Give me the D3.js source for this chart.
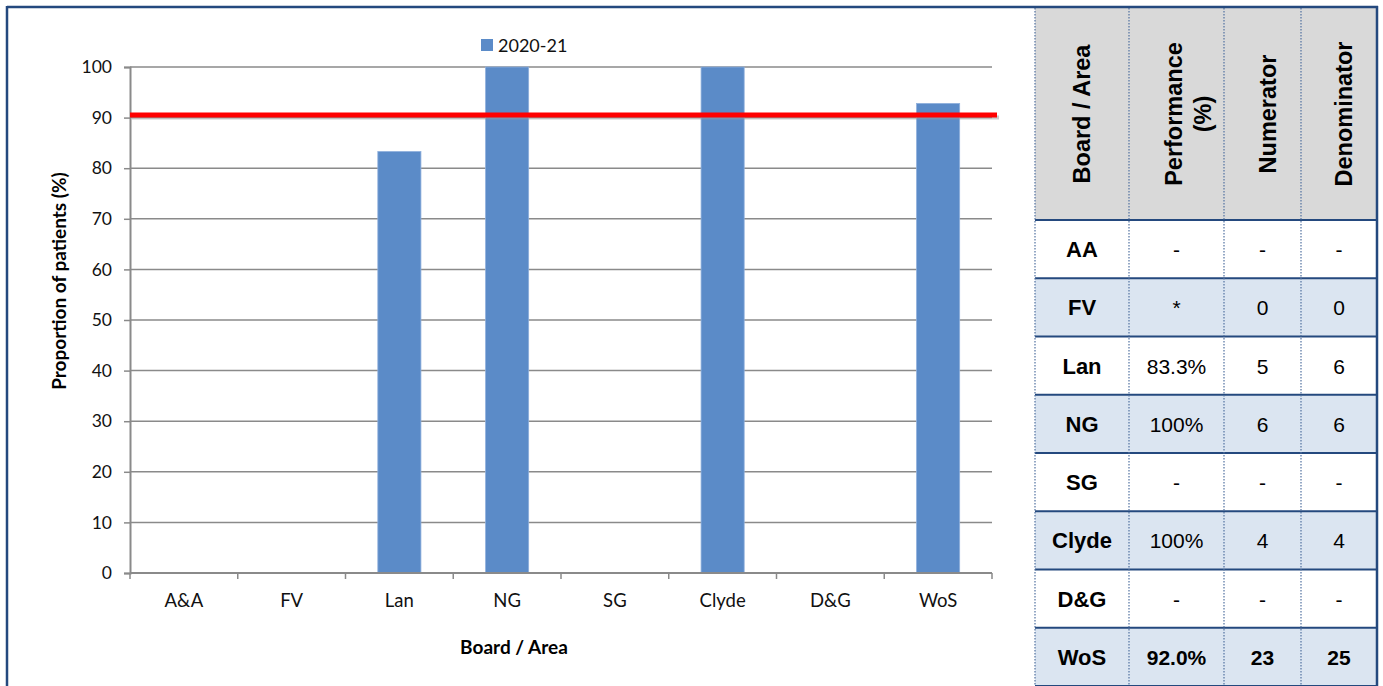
<!DOCTYPE html>
<html>
<head>
<meta charset="utf-8">
<script src="https://cdn.jsdelivr.net/npm/d3@7"></script>
<style>
body { margin: 0; background: #fff; }
svg { display: block; }
</style>
</head>
<body>
<div id="chart"></div>
<script>
// chart data
var boards = ["A&A", "FV", "Lan", "NG", "SG", "Clyde", "D&G", "WoS"];
var perf2021 = [null, null, 83.3, 100, null, 100, null, 92.8];
var yTicks = [0, 10, 20, 30, 40, 50, 60, 70, 80, 90, 100];
var target = 90.5;
var seriesName = "2020-21";

// table data
var tableHead = [["Board / Area"], ["Performance", "(%)"], ["Numerator"], ["Denominator"]];
var tableBoards = ["AA", "FV", "Lan", "NG", "SG", "Clyde", "D&G", "WoS"];
var tablePerf = ["-", "*", "83.3%", "100%", "-", "100%", "-", "92.0%"];
var tableNum = ["-", "0", "5", "6", "-", "4", "-", "23"];
var tableDen = ["-", "0", "6", "6", "-", "4", "-", "25"];

var W = 1383, H = 686;
var navy = "#24497e";
var grid = "#8a8a8a";
var chartFont = "Lato, 'Open Sans', sans-serif";
var tableFont = "'Liberation Sans', Arial, sans-serif";

var svg = d3.select("#chart").append("svg").attr("width", W).attr("height", H);

var x = d3.scaleBand().domain(boards).range([130, 992]).paddingInner(0.6).paddingOuter(0.3);
var y = d3.scaleLinear().domain([0, 100]).range([573, 67]);

// gridlines
svg.append("g").selectAll("line").data(yTicks.slice(1)).join("line")
    .attr("x1", 130).attr("x2", 992)
    .attr("y1", d => y(d)).attr("y2", d => y(d))
    .attr("stroke", grid).attr("stroke-width", 1.5);

// bars
svg.append("g").selectAll("rect").data(boards.filter((b, i) => perf2021[i] != null)).join("rect")
    .attr("x", d => x(d))
    .attr("width", x.bandwidth())
    .attr("y", d => y(perf2021[boards.indexOf(d)]))
    .attr("height", d => y(0) - y(perf2021[boards.indexOf(d)]))
    .attr("fill", "#5b8bc8")
    .attr("stroke", "#8fb0dc").attr("stroke-width", 0.8);

// y axis
var yAxis = svg.append("g").attr("transform", "translate(130,0)")
    .call(d3.axisLeft(y).tickValues(yTicks).tickSize(6).tickPadding(12));
yAxis.select(".domain").attr("stroke", grid).attr("stroke-width", 2);
yAxis.selectAll(".tick line").attr("stroke", grid).attr("stroke-width", 1.5);
yAxis.selectAll(".tick text").attr("font-family", chartFont).attr("font-size", 17.5).attr("fill", "#111");

// x axis
var step = x.step();
svg.append("line").attr("x1", 130).attr("x2", 992).attr("y1", y(0)).attr("y2", y(0))
    .attr("stroke", grid).attr("stroke-width", 2);
var bounds = boards.map(d => x(d) + x.bandwidth() / 2 - step / 2).concat([992]);
svg.append("g").selectAll("line").data(bounds).join("line")
    .attr("x1", d => d).attr("x2", d => d)
    .attr("y1", y(0)).attr("y2", y(0) + 6)
    .attr("stroke", grid).attr("stroke-width", 1.5);
svg.append("g").selectAll("text").data(boards).join("text")
    .attr("x", d => x(d) + x.bandwidth() / 2)
    .attr("y", 607)
    .attr("text-anchor", "middle")
    .attr("font-family", chartFont).attr("font-size", 18.5).attr("fill", "#111")
    .text(d => d);

// target line with faint shadow
svg.append("line").attr("x1", 132).attr("x2", 999)
    .attr("y1", y(target) + 2.5).attr("y2", y(target) + 2.5)
    .attr("stroke", "#999").attr("stroke-opacity", 0.5).attr("stroke-width", 4);
svg.append("line").attr("x1", 130).attr("x2", 997)
    .attr("y1", y(target)).attr("y2", y(target))
    .attr("stroke", "#ff0000").attr("stroke-width", 5);

// axis titles
svg.append("text")
    .attr("transform", "translate(66,281) rotate(-90)")
    .attr("text-anchor", "middle")
    .attr("font-family", chartFont).attr("font-size", 19).attr("font-weight", "bold")
    .text("Proportion of patients (%)");
svg.append("text")
    .attr("x", 514).attr("y", 654)
    .attr("text-anchor", "middle")
    .attr("font-family", chartFont).attr("font-size", 19).attr("font-weight", "bold")
    .text("Board / Area");

// legend
svg.append("rect").attr("x", 481).attr("y", 39).attr("width", 12).attr("height", 12).attr("fill", "#5b8bc8");
svg.append("text").attr("x", 498).attr("y", 52)
    .attr("font-family", chartFont).attr("font-size", 18).attr("fill", "#111")
    .text(seriesName);

// table
var colX = [1035, 1129, 1224, 1301, 1377];
var headTop = 8, headBot = 220;
var rowH = (H - headBot) / tableBoards.length;
var cols = [tableBoards, tablePerf, tableNum, tableDen];
var headBase = [8, 5.5, 13.5, 13];   // baseline offset of first header line from column centre
var headLine = 29;

svg.append("rect").attr("x", colX[0]).attr("y", headTop)
    .attr("width", colX[4] - colX[0]).attr("height", headBot - headTop).attr("fill", "#d9d9d9");

tableBoards.forEach(function(b, i) {
    svg.append("rect").attr("x", colX[0]).attr("y", headBot + i * rowH)
        .attr("width", colX[4] - colX[0]).attr("height", rowH)
        .attr("fill", i % 2 == 1 ? "#dbe5f1" : "#ffffff");
});

// header text
tableHead.forEach(function(lines, c) {
    var cx = (colX[c] + colX[c + 1]) / 2;
    var t = svg.append("text")
        .attr("transform", "translate(" + cx + "," + 114 + ") rotate(-90)")
        .attr("text-anchor", "middle")
        .attr("font-family", tableFont).attr("font-size", 23.5).attr("font-weight", "bold")
        .attr("fill", "#000");
    lines.forEach(function(l, k) {
        t.append("tspan").attr("x", 0)
            .attr("y", headBase[c] + k * headLine)
            .text(l);
    });
});

// body text
cols.forEach(function(col, c) {
    var cx = (colX[c] + colX[c + 1]) / 2;
    col.forEach(function(v, i) {
        var bold = c == 0 || i == tableBoards.length - 1;
        svg.append("text")
            .attr("x", cx).attr("y", headBot + i * rowH + rowH / 2 + 8)
            .attr("text-anchor", "middle")
            .attr("font-family", tableFont)
            .attr("font-size", c == 0 ? 22 : 21)
            .attr("font-weight", bold ? "bold" : "normal")
            .attr("fill", "#000")
            .text(v);
    });
});

// row lines
for (var i = 0; i <= tableBoards.length; i++) {
    var ly = headBot + i * rowH;
    svg.append("line").attr("x1", colX[0]).attr("x2", colX[4])
        .attr("y1", ly).attr("y2", ly)
        .attr("stroke", navy).attr("stroke-width", 2);
}
// column lines (dotted)
colX.slice(0, 4).forEach(function(cx) {
    svg.append("line").attr("x1", cx).attr("x2", cx).attr("y1", headTop).attr("y2", H)
        .attr("stroke", "#5071a0").attr("stroke-width", 1.2).attr("stroke-dasharray", "1.5,1.5");
});

// outer frame
svg.append("line").attr("x1", 7).attr("x2", colX[4] + 1).attr("y1", 7).attr("y2", 7)
    .attr("stroke", navy).attr("stroke-width", 2.5);
svg.append("line").attr("x1", 7).attr("x2", 7).attr("y1", 6).attr("y2", H)
    .attr("stroke", navy).attr("stroke-width", 2.5);
svg.append("line").attr("x1", colX[4]).attr("x2", colX[4]).attr("y1", 6).attr("y2", H)
    .attr("stroke", navy).attr("stroke-width", 2.5);
</script>
</body>
</html>
